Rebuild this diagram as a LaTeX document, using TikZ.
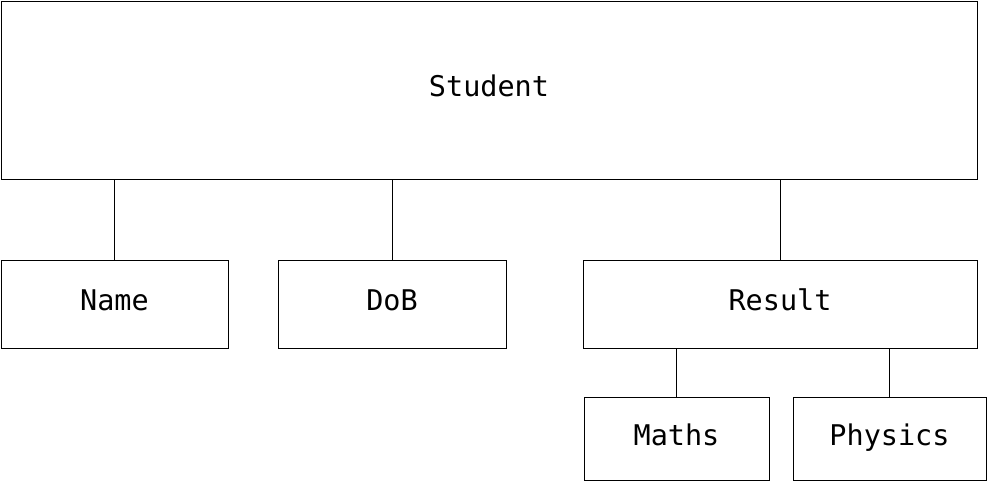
\documentclass[tikz,border=0pt]{standalone}
\usepackage{fontspec}
\setmonofont{DejaVu Sans Mono}
\begin{document}
\begin{tikzpicture}[x=1pt,y=-1pt,
  box/.style={draw,line width=0.9pt,inner sep=0pt,text height=21pt,text depth=8pt,font=\ttfamily\fontsize{28.5}{31}\selectfont},
  link/.style={line width=0.9pt}]
\useasboundingbox (0,0) rectangle (987,482);
\node[box,minimum width=976pt,minimum height=178pt] (student) at (489,90) {Student};
\node[box,minimum width=227pt,minimum height=88pt] (name) at (114.5,304) {Name};
\node[box,minimum width=228pt,minimum height=88pt] (dob) at (392,304) {DoB};
\node[box,minimum width=394pt,minimum height=88pt] (result) at (780,304) {Result};
\node[box,minimum width=185pt,minimum height=83pt] (maths) at (676.5,438.5) {Maths};
\node[box,minimum width=193pt,minimum height=83pt] (physics) at (889.5,438.5) {Physics};
\draw[link] (name.north) -- (name.north |- student.south);
\draw[link] (dob.north) -- (dob.north |- student.south);
\draw[link] (result.north) -- (result.north |- student.south);
\draw[link] (maths.north) -- (maths.north |- result.south);
\draw[link] (physics.north) -- (physics.north |- result.south);
\end{tikzpicture}
\end{document}
